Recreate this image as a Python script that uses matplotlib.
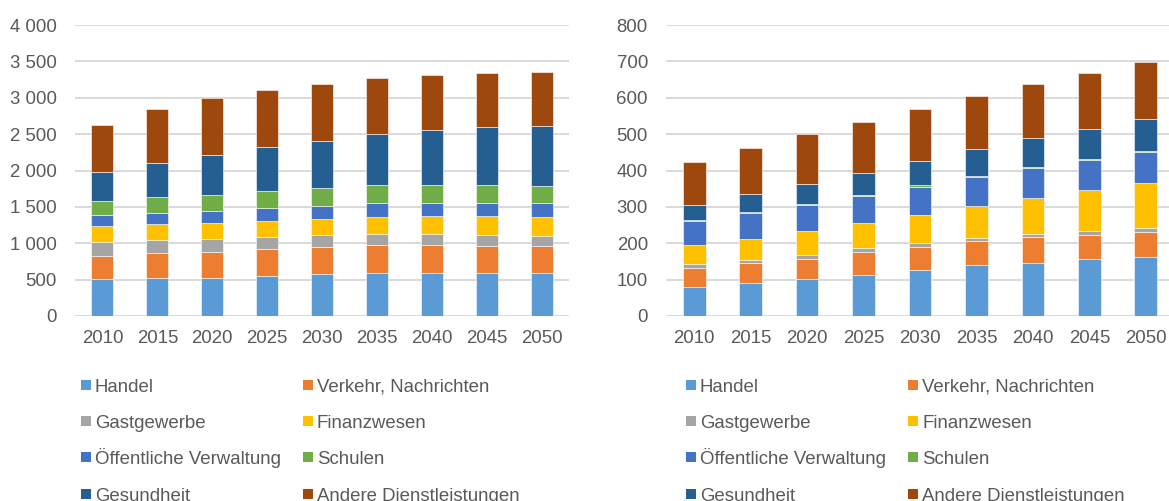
import numpy as np
import matplotlib.pyplot as plt
from matplotlib.patches import Rectangle
from matplotlib.ticker import FuncFormatter, MultipleLocator

plt.rcParams['font.family'] = ['Liberation Sans', 'DejaVu Sans']

# --- data ---
years = ["2010", "2015", "2020", "2025", "2030", "2035", "2040", "2045", "2050"]
labels = ["Handel", "Verkehr, Nachrichten", "Gastgewerbe", "Finanzwesen",
          "Öffentliche Verwaltung", "Schulen", "Gesundheit", "Andere Dienstleistungen"]
colors = ["#5B9BD5", "#ED7D31", "#A5A5A5", "#FFC000",
          "#4472C4", "#70AD47", "#255E91", "#9E480E"]

# left chart
a_handel   = [508, 517, 522, 554, 577, 590, 595, 595, 590]
a_verkehr  = [311, 343, 357, 366, 370, 380, 375, 371, 367]
a_gast     = [202, 179, 178, 169, 161, 156, 156, 146, 141]
a_finanz   = [215, 220, 215, 220, 228, 238, 252, 261, 266]
a_verwalt  = [146, 155, 170, 169, 179, 183, 174, 179, 183]
a_schulen  = [192, 225, 224, 243, 243, 247, 251, 251, 243]
a_gesund   = [399, 462, 545, 599, 654, 710, 756, 792, 823]
a_andere   = [659, 741, 782, 783, 774, 769, 759, 751, 742]

# right chart
b_handel   = [79, 91, 102, 114, 127, 139, 147, 156, 162]
b_verkehr  = [52, 54, 56, 61, 63, 66, 69, 68, 70]
b_gast     = [12, 10, 11, 11, 10, 9, 9, 11, 11]
b_finanz   = [52, 58, 65, 69, 79, 89, 100, 112, 124]
b_verwalt  = [66, 70, 71, 75, 75, 79, 81, 81, 83]
b_schulen  = [4, 3, 4, 4, 5, 3, 4, 4, 4]
b_gesund   = [40, 50, 55, 60, 66, 73, 78, 83, 87]
b_andere   = [119, 127, 137, 140, 143, 147, 151, 154, 156]

W, H = 1169, 501
TXT = "#595959"
GRID = "#D9D9D9"
FS = 13.4

fig = plt.figure(figsize=(W / 100, H / 100), dpi=100)


def px_axes(x0, x1, ytop, ybot):
    return fig.add_axes([x0 / W, 1 - ybot / H, (x1 - x0) / W, (ybot - ytop) / H])


def thousands(v, pos):
    return f"{int(v):,}".replace(",", " ")


def stacked(ax, data, ymax, step):
    x = np.arange(len(years))
    bottom = np.zeros(len(years))
    for vals, col in zip(data, colors):
        ax.bar(x, vals, bottom=bottom, width=0.4, color=col,
               edgecolor="white", linewidth=0.4, zorder=3)
        bottom += np.array(vals)
    ax.set_xlim(-0.5, len(years) - 0.5)
    ax.set_ylim(0, ymax)
    ax.yaxis.set_major_locator(MultipleLocator(step))
    ax.yaxis.set_major_formatter(FuncFormatter(thousands))
    ax.set_xticks(x)
    ax.set_xticklabels(years)
    ax.grid(axis="y", color=GRID, linewidth=1.4, zorder=0)
    ax.set_axisbelow(True)
    for s in ax.spines.values():
        s.set_visible(False)
    ax.tick_params(axis="both", length=0, labelsize=FS, labelcolor=TXT)
    ax.tick_params(axis="x", pad=10)
    ax.tick_params(axis="y", pad=13)


def legend(x_col1, x_col2):
    rows = [385, 421, 457, 494]
    for i, (lab, col) in enumerate(zip(labels, colors)):
        r, c = divmod(i, 2)
        xm = x_col1 if c == 0 else x_col2
        yc = rows[r]
        fig.add_artist(Rectangle((xm / W, 1 - (yc + 5) / H), 10 / W, 10 / H,
                                 transform=fig.transFigure, color=col, lw=0))
        fig.text((xm + 14) / W, 1 - (yc + 7) / H, lab, fontsize=FS,
                 color=TXT, va="baseline", ha="left")


ax1 = px_axes(75, 569, 25, 316)
stacked(ax1, [a_handel, a_verkehr, a_gast, a_finanz,
              a_verwalt, a_schulen, a_gesund, a_andere], 4000, 500)

ax2 = px_axes(666, 1174, 25, 316)
stacked(ax2, [b_handel, b_verkehr, b_gast, b_finanz,
              b_verwalt, b_schulen, b_gesund, b_andere], 800, 100)

legend(81, 303)
legend(686, 908)

fig.savefig("out.png", dpi=100)
